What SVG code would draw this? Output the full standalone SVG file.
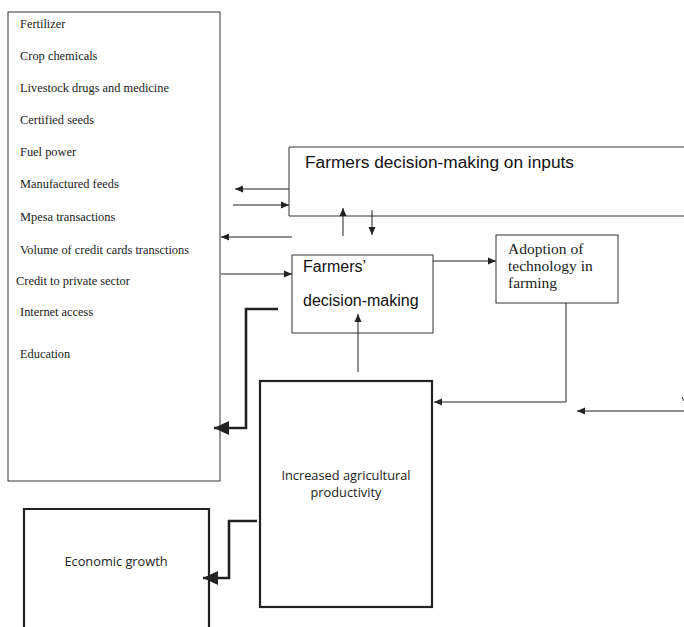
<svg xmlns="http://www.w3.org/2000/svg" width="684" height="627" viewBox="0 0 684 627">
<style>
.box{fill:#fff;stroke:#333;stroke-width:1}
.thick{fill:#fff;stroke:#222;stroke-width:2.2}
.ser{font-family:"Liberation Serif","Times New Roman",serif;font-size:12.4px;fill:#222}
.ad{font-family:"Liberation Serif","Times New Roman",serif;font-size:15.5px;fill:#222}
.san{font-family:"Liberation Sans",Arial,sans-serif;font-size:16px;fill:#111}
.big{font-size:17.3px}
.cal{font-family:"Open Sans","Noto Sans",sans-serif;font-size:12.8px;fill:#222}
.ln{fill:none;stroke:#222;stroke-width:1}
.tk{fill:none;stroke:#222;stroke-width:2.6}
</style>
<defs>
<marker id="a" markerUnits="userSpaceOnUse" markerWidth="10" markerHeight="10" refX="8" refY="4" orient="auto">
<path d="M0,0.5 L8,4 L0,7.5 Z" fill="#222"/>
</marker>
<marker id="b" markerUnits="userSpaceOnUse" markerWidth="18" markerHeight="18" refX="15" refY="8" orient="auto">
<path d="M0,1 L15,8 L0,15 Z" fill="#222"/>
</marker>
</defs>
<g id="inputs">
<rect class="box" x="8" y="12" width="212" height="469"/>
<text class="ser" x="20" y="28">Fertilizer</text>
<text class="ser" x="20" y="60">Crop chemicals</text>
<text class="ser" x="20" y="92">Livestock drugs and medicine</text>
<text class="ser" x="20" y="124">Certified seeds</text>
<text class="ser" x="20" y="156">Fuel power</text>
<text class="ser" x="20" y="188">Manufactured feeds</text>
<text class="ser" x="20" y="221">Mpesa transactions</text>
<text class="ser" x="20" y="254">Volume of credit cards transctions</text>
<text class="ser" x="16" y="285">Credit to private sector</text>
<text class="ser" x="20" y="316">Internet access</text>
<text class="ser" x="20" y="358">Education</text>
</g>
<g id="decision-inputs">
<path class="box" d="M690,147 H289 V216 H690"/>
<text class="san big" x="305" y="168">Farmers decision-making on inputs</text>
</g>
<g id="farmers-decision">
<rect class="box" x="292" y="255" width="141" height="78"/>
<text class="san" x="303" y="272">Farmers’</text>
<text class="san" x="303" y="306">decision-making</text>
</g>
<g id="adoption">
<rect class="box" x="496" y="235" width="122" height="68"/>
<text class="ad" x="508" y="254">Adoption of</text>
<text class="ad" x="508" y="271">technology in</text>
<text class="ad" x="508" y="288">farming</text>
</g>
<g id="productivity">
<rect class="thick" x="260" y="381" width="172" height="226"/>
<text class="cal" x="346" y="480" text-anchor="middle">Increased agricultural</text>
<text class="cal" x="346" y="497" text-anchor="middle">productivity</text>
</g>
<g id="growth">
<path class="thick" d="M24,630 V509 H209 V630"/>
<text class="cal" x="116" y="566" text-anchor="middle">Economic growth</text>
</g>
<g id="connectors">
<line class="ln" x1="289" y1="189" x2="235" y2="189" marker-end="url(#a)"/>
<line class="ln" x1="233" y1="205" x2="289" y2="205" marker-end="url(#a)"/>
<line class="ln" x1="343" y1="236" x2="343" y2="208" marker-end="url(#a)"/>
<line class="ln" x1="372" y1="210" x2="372" y2="235" marker-end="url(#a)"/>
<line class="ln" x1="292" y1="237" x2="221" y2="237" marker-end="url(#a)"/>
<line class="ln" x1="221" y1="274" x2="292" y2="274" marker-end="url(#a)"/>
<line class="ln" x1="433" y1="261" x2="496" y2="261" marker-end="url(#a)"/>
<line class="ln" x1="358" y1="372" x2="358" y2="314" marker-end="url(#a)"/>
<polyline class="ln" points="566,303 566,402 434,402" marker-end="url(#a)"/>
<line class="ln" x1="684" y1="411" x2="577" y2="411" marker-end="url(#a)"/>
<line class="ln" x1="682" y1="397" x2="684" y2="401"/>
<polyline class="tk" points="278,309 246,309 246,428 214,428" marker-end="url(#b)"/>
<polyline class="tk" points="257,521 229,521 229,578 203,578" marker-end="url(#b)"/>
</g>
</svg>
